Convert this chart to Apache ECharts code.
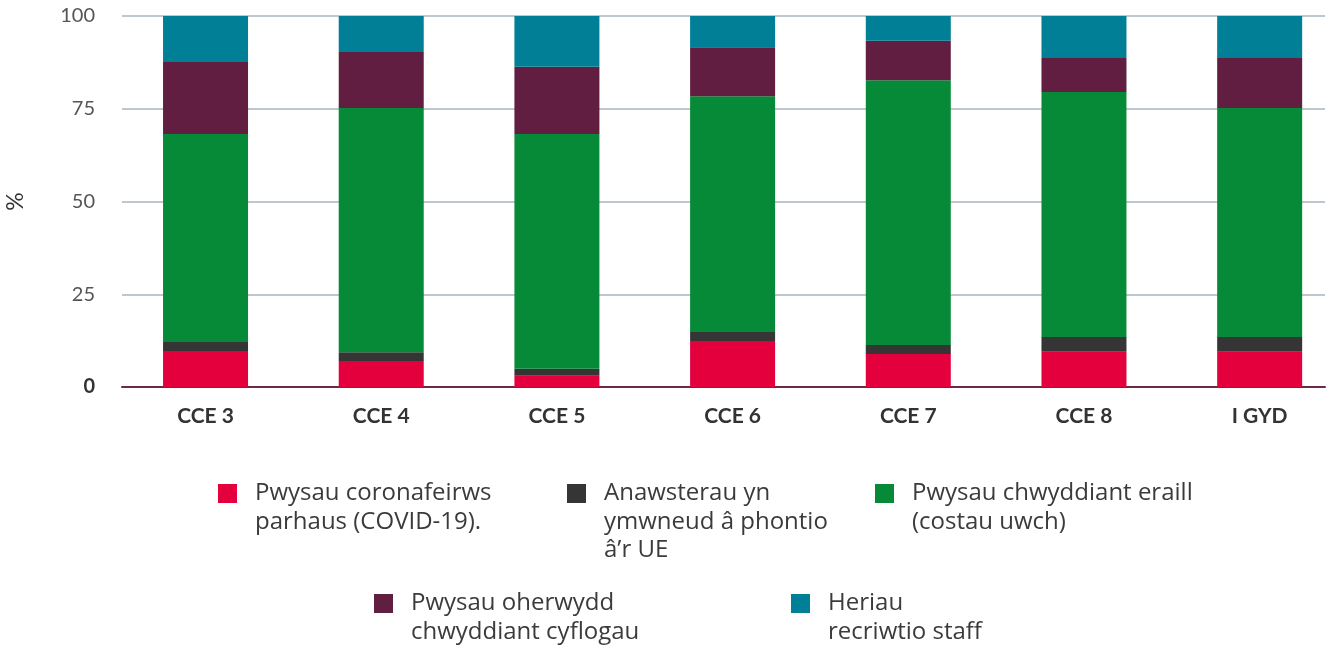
<!DOCTYPE html>
<html><head><meta charset="utf-8">
<script src="https://cdn.jsdelivr.net/npm/echarts@6/dist/echarts.min.js"></script>
<style>html,body{margin:0;padding:0;background:#fff}#c{width:1328px;height:647px}</style>
</head><body><div id="c"></div>
<script>
const categories = ['CCE 3', 'CCE 4', 'CCE 5', 'CCE 6', 'CCE 7', 'CCE 8', 'I GYD'];
const seriesNames = [
  'Pwysau coronafeirws\nparhaus (COVID-19).',
  'Anawsterau yn\nymwneud â phontio\nâ’r UE',
  'Pwysau chwyddiant eraill\n(costau uwch)',
  'Pwysau oherwydd\nchwyddiant cyflogau',
  'Heriau\nrecriwtio staff'
];
const covid = [9.7, 7.0, 3.0, 12.4, 8.9, 9.5, 9.5];
const euTransition = [2.4, 2.4, 1.9, 2.4, 2.4, 4.0, 4.0];
const otherInflation = [56.1, 65.8, 63.3, 63.6, 71.4, 66.0, 61.7];
const wageInflation = [19.4, 15.1, 18.1, 13.2, 10.6, 9.2, 13.5];
const staffRecruitment = [12.4, 9.7, 13.7, 8.4, 6.7, 11.3, 11.3];
const yTicks = [0, 25, 50, 75, 100];

const colors = ['#e4003d', '#353535', '#078a37', '#611e40', '#007f96'];
const allValues = [covid, euTransition, otherInflation, wageInflation, staffRecruitment];

const font = 'Lato, "Open Sans", sans-serif';
const legendFont = '"Open Sans", Lato, sans-serif';
const txt = '#3b3b3b';
const LH = 28.5;

// legend placement (icon top-left)
const legendPos = [[218, 484], [567, 484], [875, 484], [374, 594], [791, 594]];
const legends = seriesNames.map((n, i) => {
  const lines = n.split('\n').length;
  const box = (2 * lines - 1) * LH;
  return {
    data: [n],
    left: legendPos[i][0],
    top: legendPos[i][1] + 9.5 - box / 2,
    padding: 0,
    orient: 'horizontal',
    icon: 'rect',
    itemWidth: 19,
    itemHeight: 19,
    itemGap: 0,
    selectedMode: false,
    formatter: name => '\n'.repeat(lines - 1) + name,
    textStyle: {
      color: txt, fontFamily: legendFont, fontSize: 24, lineHeight: LH,
      padding: [0, 0, 0, 13]
    }
  };
});

const chart = echarts.init(document.getElementById('c'), null, {renderer: 'canvas'});
chart.setOption({
  animation: false,
  backgroundColor: '#ffffff',
  color: colors,
  legend: legends,
  grid: [
    {left: 117.7, right: -19.5, top: 16, bottom: 260, containLabel: false, outerBoundsMode: 'none'},
    {left: 122, right: 3, top: 16, bottom: 260, containLabel: false, outerBoundsMode: 'none'}
  ],
  xAxis: [
    {
      gridIndex: 0,
      type: 'category',
      data: categories,
      axisLine: {show: false},
      axisTick: {show: false},
      splitLine: {show: false},
      axisLabel: {
        interval: 0,
        color: '#333333', fontFamily: font, fontSize: 21, fontWeight: 'bold', margin: 19
      }
    },
    {
      gridIndex: 1,
      type: 'value',
      min: 0, max: 1,
      axisLine: {show: true, onZero: false, lineStyle: {color: '#6a2a48', width: 2}},
      axisTick: {show: false},
      axisLabel: {show: false},
      splitLine: {show: false}
    }
  ],
  yAxis: [
    {
      gridIndex: 0,
      type: 'value',
      min: yTicks[0],
      max: yTicks[yTicks.length - 1],
      show: false
    },
    {
      gridIndex: 1,
      type: 'value',
      min: yTicks[0],
      max: yTicks[yTicks.length - 1],
      interval: 25,
      name: '%',
      nameLocation: 'middle',
      nameRotate: 90,
      nameGap: 95,
      nameTextStyle: {color: '#333333', fontFamily: font, fontSize: 23},
      axisLine: {show: false},
      axisTick: {show: false},
      splitLine: {lineStyle: {color: '#a8b3c1', width: 1.5}},
      axisLabel: {
        color: '#555555', fontFamily: font, fontSize: 20, margin: 27,
        formatter: v => v === 0 ? '{b|0}' : String(v),
        rich: {b: {color: '#333333', fontFamily: font, fontSize: 20, fontWeight: 'bold'}}
      }
    }
  ],
  series: seriesNames.map((n, s) => ({
    name: n,
    type: 'bar',
    stack: 'total',
    xAxisIndex: 0,
    yAxisIndex: 0,
    barWidth: 85,
    itemStyle: {color: colors[s]},
    data: allValues[s]
  }))
});
</script>
</body></html>
